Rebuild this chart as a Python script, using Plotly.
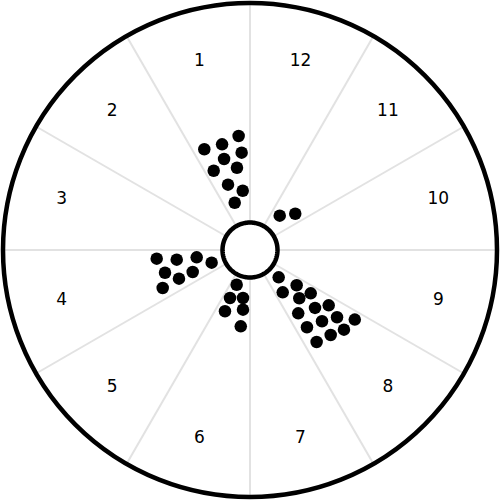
import numpy as np
import plotly.graph_objects as go

# sector labels, counter-clockwise starting just left of 12 o'clock
sector_labels = ['1', '2', '3', '4', '5', '6', '7', '8', '9', '10', '11', '12']
sector_centers = [105, 135, 165, 195, 225, 255, 285, 315, 345, 15, 45, 75]

# dot positions (radius on a 0-247 scale, angle in degrees)
sector1_r = [114.6, 110.6, 109.3, 97.7, 94.6, 87.2, 83.3, 68.9, 59.7, 49.7]
sector1_theta = [95.7, 114.4, 104.8, 94.9, 105.9, 114.6, 99.0, 108.6, 97.0, 107.9]

sector4_r = [93.7, 73.9, 53.8, 40.4, 88.0, 61.4, 76.6, 95.2]
sector4_theta = [185.3, 187.5, 187.8, 198.3, 195.0, 201.0, 202.0, 203.5]

sector6_r = [37.2, 52.0, 48.5, 66.2, 60.1, 76.9]
sector6_theta = [249.0, 247.4, 261.7, 247.8, 263.3, 263.1]

sector8_r = [39.6, 53.5, 58.5, 69.0, 74.6, 79.6, 87.1, 96.2, 96.0, 101.3,
             110.0, 125.8, 123.2, 117.2, 113.6]
sector8_theta = [316.4, 307.7, 322.9, 315.6, 324.5, 307.3, 318.3, 324.9, 306.4, 315.3,
                 322.3, 326.4, 319.7, 313.5, 305.9]

sector11_r = [45.4, 58.0]
sector11_theta = [49.1, 38.7]

OUTER_R = 247
HOLE_R = 27.5
LABEL_R = 195

fig = go.Figure()

ring = np.linspace(0, 360, 181)
fig.add_trace(go.Scatterpolar(
    r=[HOLE_R] * len(ring), theta=ring, mode='lines', fill='toself',
    fillcolor='white', line=dict(color='black', width=4.5),
    hoverinfo='skip', showlegend=False))

all_r = sector1_r + sector4_r + sector6_r + sector8_r + sector11_r
all_theta = sector1_theta + sector4_theta + sector6_theta + sector8_theta + sector11_theta
fig.add_trace(go.Scatterpolar(
    r=all_r, theta=all_theta, mode='markers',
    marker=dict(color='black', size=12.5, line=dict(width=0)),
    showlegend=False))

fig.add_trace(go.Scatterpolar(
    r=[LABEL_R] * len(sector_labels), theta=sector_centers, mode='text',
    text=sector_labels, textfont=dict(family='DejaVu Sans', size=17, color='black'),
    hoverinfo='skip', showlegend=False))

fig.update_layout(
    width=500, height=500,
    margin=dict(l=0, r=0, t=0, b=0),
    paper_bgcolor='white',
    polar=dict(
        domain=dict(x=[0.006, 0.994], y=[0.006, 0.994]),
        bgcolor='white',
        radialaxis=dict(visible=False, range=[0, OUTER_R], showgrid=False),
        angularaxis=dict(
            rotation=0, direction='counterclockwise',
            tickmode='array', tickvals=list(range(0, 360, 30)),
            showticklabels=False, ticks='',
            showgrid=True, gridcolor='#e2e2e2', gridwidth=2,
            showline=True, linecolor='black', linewidth=4.5),
    ),
)

# page body has a default 8px margin; drop it so the figure sits at 0,0
fig.write_html("out.html", config=dict(displayModeBar=False),
               post_script="document.body.style.margin='0';")
